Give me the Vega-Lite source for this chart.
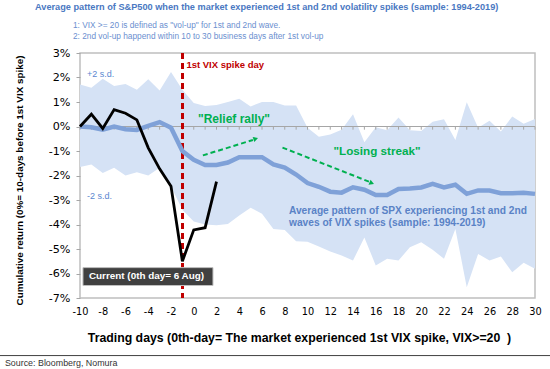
{
  "$schema": "https://vega.github.io/schema/vega-lite/v6.json",
  "width": 455,
  "height": 245,
  "autosize": {"type": "none"},
  "padding": {"left": 80, "top": 53, "right": 15, "bottom": 71},
  "background": "white",
  "config": {
    "view": {"stroke": "#bfbfbf", "strokeWidth": 1.5},
    "font": "Liberation Sans",
    "axis": {"labelOverlap": false, "labelBound": false, "labelFlush": false}
  },
  "title": {
    "text": "Average pattern of S&P500 when the market experienced 1st and 2nd volatility spikes  (sample: 1994-2019)",
    "anchor": "start",
    "frame": "group",
    "dx": -45,
    "offset": 8,
    "font": "Liberation Sans",
    "fontSize": 9.2,
    "fontWeight": "bold",
    "color": "#4a78c2"
  },
  "data": {
    "values": [
      {"day": -10, "avg": 0, "hi": 1.71, "lo": -1.65, "cur": 0},
      {"day": -9, "avg": -0.03, "hi": 1.58, "lo": -1.55, "cur": 0.5},
      {"day": -8, "avg": -0.13, "hi": 1.95, "lo": -1.9, "cur": -0.08},
      {"day": -7, "avg": 0, "hi": 1.65, "lo": -1.68, "cur": 0.69},
      {"day": -6, "avg": -0.11, "hi": 1.73, "lo": -2.0, "cur": 0.54},
      {"day": -5, "avg": -0.14, "hi": 1.5, "lo": -1.87, "cur": 0.27},
      {"day": -4, "avg": 0.03, "hi": 1.93, "lo": -2.0, "cur": -0.87},
      {"day": -3, "avg": 0.18, "hi": 1.47, "lo": -1.68, "cur": -1.73},
      {"day": -2, "avg": -0.05, "hi": 2.22, "lo": -2.45, "cur": -2.44},
      {"day": -1, "avg": -1.0, "hi": 1.5, "lo": -3.4, "cur": -5.5},
      {"day": 0, "avg": -1.36, "hi": 0.96, "lo": -3.88, "cur": -4.22},
      {"day": 1, "avg": -1.57, "hi": 0.84, "lo": -4.0, "cur": -4.13},
      {"day": 2, "avg": -1.57, "hi": 0.88, "lo": -4.03, "cur": -2.25},
      {"day": 3, "avg": -1.47, "hi": 1.0, "lo": -3.98},
      {"day": 4, "avg": -1.25, "hi": 1.13, "lo": -3.63},
      {"day": 5, "avg": -1.25, "hi": 0.82, "lo": -3.32},
      {"day": 6, "avg": -1.25, "hi": 1.0, "lo": -3.56},
      {"day": 7, "avg": -1.55, "hi": 1.0, "lo": -4.18},
      {"day": 8, "avg": -1.68, "hi": 0.86, "lo": -4.22},
      {"day": 9, "avg": -1.96, "hi": 0.86, "lo": -4.68},
      {"day": 10, "avg": -2.31, "hi": -0.05, "lo": -4.7},
      {"day": 11, "avg": -2.46, "hi": -0.42, "lo": -4.9},
      {"day": 12, "avg": -2.66, "hi": -0.33, "lo": -5.1},
      {"day": 13, "avg": -2.7, "hi": -0.13, "lo": -5.27},
      {"day": 14, "avg": -2.48, "hi": 0.5, "lo": -5.47},
      {"day": 15, "avg": -2.58, "hi": -0.64, "lo": -4.53},
      {"day": 16, "avg": -2.8, "hi": -0.03, "lo": -5.67},
      {"day": 17, "avg": -2.8, "hi": -0.15, "lo": -5.4},
      {"day": 18, "avg": -2.55, "hi": 0.37, "lo": -5.47},
      {"day": 19, "avg": -2.53, "hi": -0.15, "lo": -4.93},
      {"day": 20, "avg": -2.49, "hi": -0.18, "lo": -4.72},
      {"day": 21, "avg": -2.34, "hi": 0.19, "lo": -5.03},
      {"day": 22, "avg": -2.49, "hi": 0.3, "lo": -5.4},
      {"day": 23, "avg": -2.38, "hi": -0.55, "lo": -4.18},
      {"day": 24, "avg": -2.75, "hi": 0.99, "lo": -6.56},
      {"day": 25, "avg": -2.61, "hi": -0.05, "lo": -5.2},
      {"day": 26, "avg": -2.61, "hi": 0.23, "lo": -5.47},
      {"day": 27, "avg": -2.72, "hi": -0.2, "lo": -5.31},
      {"day": 28, "avg": -2.72, "hi": 0.41, "lo": -5.95},
      {"day": 29, "avg": -2.7, "hi": 0.11, "lo": -5.56},
      {"day": 30, "avg": -2.75, "hi": 0.31, "lo": -5.81}
    ]
  },
  "layer": [
    {
      "mark": {"type": "area", "color": "#d5e2f5", "opacity": 1},
      "encoding": {
        "x": {
          "field": "day", "type": "quantitative",
          "scale": {"domain": [-10, 30], "nice": false, "zero": false},
          "axis": {
            "values": [-10, -8, -6, -4, -2, 0, 2, 4, 6, 8, 10, 12, 14, 16, 18, 20, 22, 24, 26, 28, 30],
            "tickCount": 41,
            "labelExpr": "'' + datum.value",
            "labelOverlap": false,
            "domain": false, "ticks": false, "grid": false,
            "labelFont": "DejaVu Sans", "labelFontSize": 9.8, "labelColor": "#000000",
            "labelPadding": 8, "labelFlush": false,
            "title": "Trading days (0th-day= The market experienced 1st VIX spike, VIX>=20\u00a0 )",
            "titleFont": "Liberation Sans", "titleFontSize": 12.3, "titleFontWeight": "bold", "titleColor": "#000000",
            "titleX": 219, "titleY": 39, "titleAlign": "center", "titleBaseline": "middle"
          }
        },
        "y": {
          "field": "lo", "type": "quantitative",
          "scale": {"domain": [-7, 3], "nice": false, "zero": false},
          "axis": {
            "values": [-7, -6, -5, -4, -3, -2, -1, 0, 1, 2, 3],
            "tickCount": 11,
            "labelExpr": "datum.value + '%'",
            "labelOverlap": false,
            "domain": false, "grid": false,
            "ticks": true, "tickSize": 4, "tickColor": "#a6a6a6",
            "labelFont": "DejaVu Sans", "labelFontSize": 11.2, "labelColor": "#000000",
            "labelPadding": 6,
            "title": "Cumulative return (0%= 10-days before 1st VIX spike)",
            "titleFont": "Liberation Sans", "titleFontSize": 9.9, "titleFontWeight": "bold", "titleColor": "#000000",
            "titleX": -61, "titleY": 127, "titleAngle": 270, "titleAlign": "center", "titleBaseline": "middle"
          }
        },
        "y2": {"field": "hi"}
      }
    },
    {
      "mark": {"type": "rule", "color": "#a6a6a6", "strokeWidth": 1},
      "encoding": {"y": {"datum": 0, "type": "quantitative"}}
    },
    {
      "mark": {"type": "rule", "color": "#a6a6a6", "strokeWidth": 1},
      "encoding": {
        "x": {"field": "day", "type": "quantitative"},
        "y": {"datum": 0, "type": "quantitative"},
        "y2": {"datum": -0.13}
      }
    },
    {
      "mark": {"type": "rule", "color": "#c00000", "strokeWidth": 1.5, "strokeDash": [6, 4]},
      "encoding": {"x": {"datum": -1, "type": "quantitative"}}
    },
    {
      "mark": {"type": "line", "color": "#7fa1d8", "strokeWidth": 4.5},
      "encoding": {
        "x": {"field": "day", "type": "quantitative"},
        "y": {"field": "avg", "type": "quantitative"}
      }
    },
    {
      "transform": [{"filter": "isValid(datum.cur)"}],
      "mark": {"type": "line", "color": "#000000", "strokeWidth": 2.8},
      "encoding": {
        "x": {"field": "day", "type": "quantitative"},
        "y": {"field": "cur", "type": "quantitative"}
      }
    },
    {
      "data": {"values": [{}]},
      "mark": {"type": "rule", "color": "#00b050", "strokeWidth": 2, "strokeDash": [5, 3]},
      "encoding": {
        "x": {"datum": 0.8, "type": "quantitative"}, "y": {"datum": -1.18, "type": "quantitative"},
        "x2": {"datum": 5.2}, "y2": {"datum": -0.55}
      }
    },
    {
      "data": {"values": [{}]},
      "mark": {"type": "point", "shape": "triangle-right", "filled": true, "color": "#00b050", "opacity": 1, "size": 30, "angle": 342},
      "encoding": {"x": {"datum": 5.45, "type": "quantitative"}, "y": {"datum": -0.5, "type": "quantitative"}}
    },
    {
      "data": {"values": [{}]},
      "mark": {"type": "rule", "color": "#00b050", "strokeWidth": 2, "strokeDash": [5, 3]},
      "encoding": {
        "x": {"datum": 7.8, "type": "quantitative"}, "y": {"datum": -0.86, "type": "quantitative"},
        "x2": {"datum": 15.4}, "y2": {"datum": -2.25}
      }
    },
    {
      "data": {"values": [{}]},
      "mark": {"type": "point", "shape": "triangle-right", "filled": true, "color": "#00b050", "opacity": 1, "size": 30, "angle": 22},
      "encoding": {"x": {"datum": 15.65, "type": "quantitative"}, "y": {"datum": -2.31, "type": "quantitative"}}
    },
    {
      "data": {"values": [{}]},
      "mark": {"type": "text", "text": "1st VIX spike day", "font": "Liberation Sans", "fontSize": 9.5, "fontWeight": "bold", "color": "#c00000", "align": "left", "baseline": "middle", "dx": 4},
      "encoding": {"x": {"datum": -1, "type": "quantitative"}, "y": {"datum": 2.53, "type": "quantitative"}}
    },
    {
      "data": {"values": [{}]},
      "mark": {"type": "text", "text": "+2 s.d.", "font": "Liberation Sans", "fontSize": 9, "color": "#5b87d0", "align": "left", "baseline": "middle", "dx": 7},
      "encoding": {"x": {"datum": -10, "type": "quantitative"}, "y": {"datum": 2.16, "type": "quantitative"}}
    },
    {
      "data": {"values": [{}]},
      "mark": {"type": "text", "text": "-2 s.d.", "font": "Liberation Sans", "fontSize": 9, "color": "#5b87d0", "align": "left", "baseline": "middle", "dx": 7},
      "encoding": {"x": {"datum": -10, "type": "quantitative"}, "y": {"datum": -2.82, "type": "quantitative"}}
    },
    {
      "data": {"values": [{}]},
      "mark": {"type": "text", "text": "\"Relief rally\"", "font": "Liberation Sans", "fontSize": 12, "fontWeight": "bold", "color": "#00b050", "align": "center", "baseline": "middle"},
      "encoding": {"x": {"datum": 3.54, "type": "quantitative"}, "y": {"datum": 0.29, "type": "quantitative"}}
    },
    {
      "data": {"values": [{}]},
      "mark": {"type": "text", "text": "\"Losing streak\"", "font": "Liberation Sans", "fontSize": 11.7, "fontWeight": "bold", "color": "#00b050", "align": "center", "baseline": "middle"},
      "encoding": {"x": {"datum": 16.11, "type": "quantitative"}, "y": {"datum": -0.98, "type": "quantitative"}}
    },
    {
      "data": {"values": [{}]},
      "mark": {"type": "text", "text": ["Average pattern of SPX experiencing 1st and 2nd", "waves of  VIX spikes (sample: 1994-2019)"], "font": "Liberation Sans", "fontSize": 10.2, "fontWeight": "bold", "color": "#5a82c6", "align": "left", "baseline": "middle", "lineHeight": 12},
      "encoding": {"x": {"datum": 8.37, "type": "quantitative"}, "y": {"datum": -3.43, "type": "quantitative"}}
    },
    {
      "data": {"values": [{}]},
      "mark": {"type": "rect", "color": "#404040", "stroke": "#bfbfbf", "strokeWidth": 1},
      "encoding": {
        "x": {"datum": -9.74, "type": "quantitative"}, "x2": {"datum": 1.69},
        "y": {"datum": -5.76, "type": "quantitative"}, "y2": {"datum": -6.49}
      }
    },
    {
      "data": {"values": [{}]},
      "mark": {"type": "text", "text": "Current (0th day= 6 Aug)", "font": "Liberation Sans", "fontSize": 9.9, "fontWeight": "bold", "color": "#ffffff", "align": "left", "baseline": "middle", "dx": 6},
      "encoding": {"x": {"datum": -9.74, "type": "quantitative"}, "y": {"datum": -6.12, "type": "quantitative"}}
    },
    {
      "data": {"values": [{}]},
      "mark": {"type": "text", "text": ["1: VIX >= 20 is defined as \"vol-up\" for 1st and 2nd wave.", "2: 2nd vol-up happend  within 10 to 30 business days after 1st vol-up"], "font": "Liberation Sans", "fontSize": 8.3, "color": "#6b8fcf", "align": "left", "baseline": "middle", "lineHeight": 11},
      "encoding": {"x": {"datum": -10.62, "type": "quantitative"}, "y": {"datum": 4.12, "type": "quantitative"}}
    },
    {
      "data": {"values": [{}]},
      "mark": {"type": "rule", "color": "#404040", "strokeWidth": 1},
      "encoding": {
        "x": {"datum": -17.1, "type": "quantitative"}, "x2": {"datum": 31.4},
        "y": {"datum": -9.35, "type": "quantitative"}
      }
    },
    {
      "data": {"values": [{}]},
      "mark": {"type": "text", "text": "Source: Bloomberg, Nomura", "font": "Liberation Sans", "fontSize": 8.9, "color": "#333333", "align": "left", "baseline": "middle"},
      "encoding": {"x": {"datum": -16.6, "type": "quantitative"}, "y": {"datum": -9.65, "type": "quantitative"}}
    }
  ]
}
